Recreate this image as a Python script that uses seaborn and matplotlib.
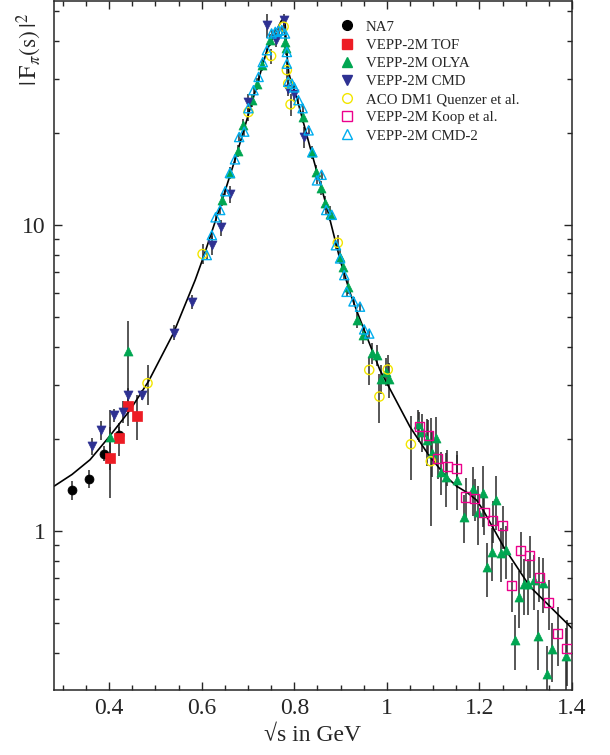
import numpy as np
import pandas as pd
import matplotlib
matplotlib.use("Agg")
import matplotlib.pyplot as plt
from matplotlib.lines import Line2D
from matplotlib.ticker import MultipleLocator, LogLocator, NullFormatter, FuncFormatter
import seaborn as sns

# ---- data ----
# fit curve
curve_x = [0.281, 0.32, 0.359, 0.40, 0.445, 0.485, 0.539, 0.586, 0.604, 0.640,
           0.676, 0.712, 0.741, 0.762, 0.772, 0.778, 0.780, 0.782, 0.785, 0.788,
           0.795, 0.805, 0.834, 0.870, 0.899, 0.921, 0.938, 0.960, 0.985, 1.050,
           1.083, 1.093, 1.129, 1.151, 1.175, 1.194, 1.208, 1.252, 1.309, 1.396,
           1.40]
curve_y = [1.40, 1.53, 1.71, 2.03, 2.48, 3.08, 4.43, 6.61, 7.87, 11.5,
           17.1, 26.2, 37.3, 43.4, 46.5, 47.5, 46.5, 41.0, 35.0, 31.5,
           28.8, 26.2, 18.0, 11.5, 7.69, 5.98, 5.10, 4.19, 3.36, 2.19,
           1.84, 1.75, 1.50, 1.40, 1.33, 1.26, 1.17, 0.889, 0.658, 0.487,
           0.48]

na7_x = [0.319, 0.357, 0.390, 0.422]
na7_y = [1.36, 1.48, 1.79, 2.06]
na7_err = [0.10, 0.10, 0.10, 0.12]

tof_x = [0.401, 0.421, 0.440, 0.461]
tof_y = [1.73, 2.01, 2.56, 2.38]
tof_err = [0.45, 0.25, 0.35, 0.40]

olya_x = [0.401, 0.441, 0.643, 0.661, 0.679, 0.689, 0.708, 0.719, 0.730, 0.748,
          0.780, 0.782, 0.818, 0.838, 0.847, 0.857, 0.867, 0.877, 0.899, 0.906,
          0.917, 0.936, 0.948, 0.967, 0.978, 0.987, 0.999, 1.005, 1.068, 1.075,
          1.086, 1.097, 1.106, 1.117, 1.127, 1.152, 1.167, 1.186, 1.196, 1.207,
          1.216, 1.227, 1.236, 1.247, 1.257, 1.276, 1.286, 1.296, 1.306, 1.317,
          1.327, 1.337, 1.346, 1.357, 1.386]
olya_y = [2.03, 3.86, 12.1, 14.8, 17.5, 21.2, 25.6, 29.0, 33.3, 40.2,
          39.7, 37.8, 22.6, 17.3, 14.9, 13.2, 11.8, 10.9, 7.87, 7.30,
          6.28, 4.89, 4.37, 3.81, 3.76, 3.15, 3.32, 3.13, 2.23, 2.11,
          1.98, 1.80, 2.01, 1.56, 1.50, 1.47, 1.11, 1.37, 1.15, 1.33,
          0.760, 0.855, 1.26, 0.849, 0.867, 0.441, 0.610, 0.671, 0.671, 0.692,
          0.452, 0.678, 0.341, 0.411, 0.391]
olya_err = [0.45, 1.0, 0.6, 0.7, 0.8, 1.0, 1.2, 1.3, 1.5, 1.8,
            1.8, 1.8, 1.0, 0.8, 0.8, 0.7, 0.6, 0.6, 0.4, 0.4,
            0.35, 0.3, 0.3, 0.3, 0.3, 0.35, 0.35, 0.4, 0.25, 0.3,
            0.35, 0.3, 0.35, 0.25, 0.3, 0.3, 0.2, 0.25, 0.25, 0.3,
            0.15, 0.17, 0.25, 0.17, 0.17, 0.09, 0.13, 0.14, 0.14, 0.14,
            0.10, 0.14, 0.08, 0.09, 0.09]

cmd_x = [0.363, 0.382, 0.411, 0.431, 0.440, 0.472, 0.540, 0.580, 0.622, 0.641,
         0.661, 0.701, 0.741, 0.761, 0.778, 0.787, 0.800, 0.820]
cmd_y = [1.89, 2.14, 2.39, 2.45, 2.78, 2.78, 4.45, 5.61, 8.59, 9.82,
         12.6, 25.3, 45.0, 40.3, 46.8, 27.9, 26.9, 19.4]
cmd_err = [0.12, 0.15, 0.12, 0.2, 0.15, 0.1, 0.25, 0.3, 0.6, 0.6,
           0.8, 1.5, 4.0, 2.0, 2.0, 1.5, 1.5, 1.5]

aco_x = [0.483, 0.602, 0.701, 0.750, 0.777, 0.784, 0.787, 0.792, 0.894, 0.962,
         0.984, 1.002, 1.052, 1.095]
aco_y = [3.04, 8.04, 23.4, 35.7, 44.5, 32.1, 29.0, 24.8, 8.75, 3.36,
         2.75, 3.37, 1.92, 1.69]
aco_err = [0.45, 0.6, 1.5, 2.0, 2.0, 2.0, 2.0, 2.0, 0.5, 0.35,
           0.5, 0.4, 0.45, 0.65]

koop_x = [1.070, 1.090, 1.110, 1.131, 1.151, 1.170, 1.190, 1.210, 1.229, 1.250,
          1.270, 1.289, 1.309, 1.329, 1.350, 1.369, 1.389]
koop_y = [2.20, 2.05, 1.73, 1.62, 1.60, 1.29, 1.28, 1.15, 1.08, 1.04,
          0.663, 0.863, 0.830, 0.704, 0.583, 0.463, 0.412]
koop_err = [0.25, 0.25, 0.25, 0.22, 0.22, 0.2, 0.2, 0.18, 0.17, 0.17,
            0.12, 0.13, 0.13, 0.12, 0.11, 0.1, 0.1]

cmd2_x = [0.611, 0.622, 0.630, 0.640, 0.651, 0.661, 0.672, 0.681, 0.692, 0.701,
          0.712, 0.723, 0.732, 0.741, 0.751, 0.759, 0.766, 0.773, 0.780, 0.784,
          0.784, 0.787, 0.795, 0.800, 0.809, 0.818, 0.831, 0.839, 0.849, 0.859,
          0.869, 0.881, 0.890, 0.899, 0.908, 0.913, 0.928, 0.942, 0.951, 0.962]
cmd2_y = [7.98, 9.27, 10.6, 11.2, 12.9, 14.8, 16.4, 19.4, 20.2, 24.1,
          27.6, 30.5, 34.1, 37.3, 42.3, 42.8, 43.2, 43.4, 42.3, 36.8,
          33.7, 29.4, 29.0, 28.2, 25.6, 24.1, 20.4, 17.3, 14.0, 14.6,
          11.2, 10.8, 8.59, 7.78, 6.86, 6.05, 5.63, 5.41, 4.56, 4.42]

labels = ["NA7", "VEPP-2M TOF", "VEPP-2M OLYA", "VEPP-2M CMD",
          "ACO DM1 Quenzer et al.", "VEPP-2M Koop et al.", "VEPP-2M CMD-2"]

# ---- style ----
sns.set_style("ticks")
plt.rcParams["font.family"] = ["Liberation Serif", "DejaVu Serif"]
plt.rcParams["mathtext.fontset"] = "stix"

fig = plt.figure(figsize=(6.1, 7.55), dpi=100)
ax = fig.add_axes([54 / 610, 1 - 690 / 755, 518 / 610, 689 / 755])

series = [
    (na7_x, na7_y, na7_err, "o", "black", True),
    (tof_x, tof_y, tof_err, "s", "#ed1c24", True),
    (olya_x, olya_y, olya_err, "^", "#00a651", True),
    (cmd_x, cmd_y, cmd_err, "v", "#2e3192", True),
    (aco_x, aco_y, aco_err, "o", "#f2e600", False),
    (koop_x, koop_y, koop_err, "s", "#ec008c", False),
    (cmd2_x, cmd2_y, [0.03 * v for v in cmd2_y], "^", "#00aeef", False),
]

# error bars first
for xs, ys, es, m, c, filled in series:
    ax.errorbar(xs, ys, yerr=es, fmt="none", ecolor="#282828",
                elinewidth=1.1, capsize=0, zorder=1)

# fit curve
curve = pd.DataFrame({"x": curve_x, "y": curve_y})
sns.lineplot(data=curve, x="x", y="y", color="black", lw=1.2, ax=ax,
             sort=False, zorder=2)

# markers
for xs, ys, es, m, c, filled in series:
    df = pd.DataFrame({"x": xs, "y": ys})
    if filled:
        sns.scatterplot(data=df, x="x", y="y", marker=m, color=c, edgecolor=c,
                        s=42, linewidth=0.5, ax=ax, zorder=3)
    else:
        sns.scatterplot(data=df, x="x", y="y", marker=m, facecolors="none",
                        edgecolors=c, s=44, linewidths=1.0, ax=ax, zorder=3)

ax.set_yscale("log")
ax.set_xlim(0.281, 1.40)
ax.set_ylim(0.302, 54)

ax.xaxis.set_major_locator(MultipleLocator(0.2))
ax.xaxis.set_minor_locator(MultipleLocator(0.05))
ax.xaxis.set_major_formatter(FuncFormatter(lambda v, p: f"{v:g}"))
ax.yaxis.set_major_locator(LogLocator(base=10))
ax.yaxis.set_minor_locator(LogLocator(base=10, subs=np.arange(2, 10)))
ax.yaxis.set_major_formatter(FuncFormatter(lambda v, p: f"{v:g}"))
ax.yaxis.set_minor_formatter(NullFormatter())

ax.tick_params(which="both", direction="in", top=True, right=True,
               labelsize=17, width=1.0, pad=6)
ax.tick_params(which="major", length=6)
ax.tick_params(which="minor", length=3.3)
for sp in ax.spines.values():
    sp.set_linewidth(1.1)

ax.set_xlabel("\u221as in GeV", fontsize=17, labelpad=4)
ax.set_ylabel(r"$|\,\mathrm{F}_{\pi}(\mathrm{s})\,|^{2}$", fontsize=17, loc="top")
ax.yaxis.set_label_coords(-0.02, 0.983)

handles = []
for xs, ys, es, m, c, filled in series:
    handles.append(Line2D([], [], ls="none", marker=m, ms=7,
                          markerfacecolor=c if filled else "none",
                          markeredgecolor=c, markeredgewidth=1.0))
ax.legend(handles, labels, loc="upper left", bbox_to_anchor=(0.552, 0.972),
          frameon=False, fontsize=10.7, handlelength=1.0, handletextpad=0.75,
          labelspacing=0.32, borderpad=0, borderaxespad=0)

fig.savefig("out.png", dpi=100)
